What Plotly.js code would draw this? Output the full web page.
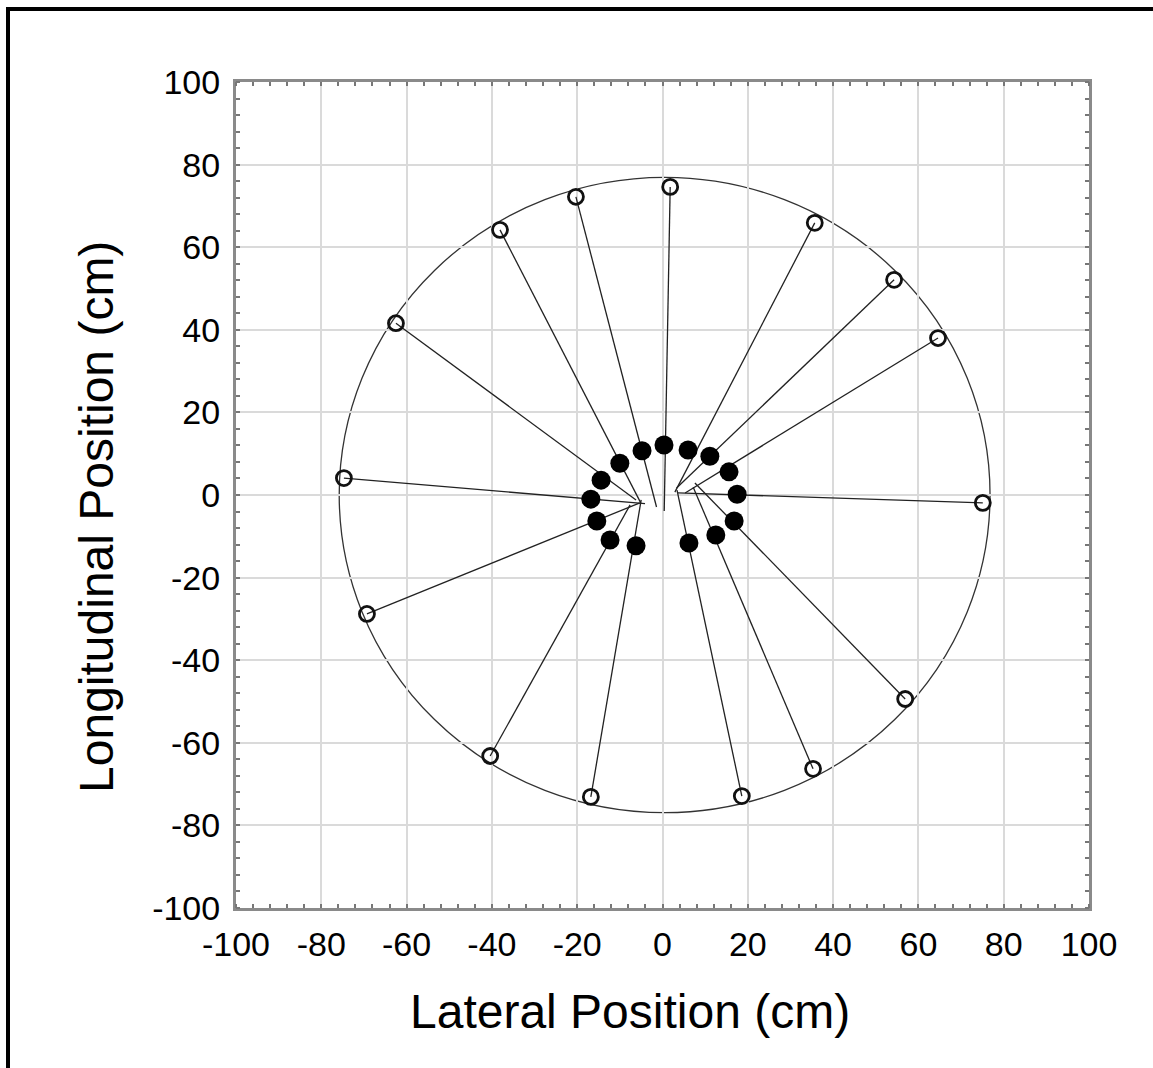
<!DOCTYPE html>
<html>
<head>
<meta charset="utf-8">
<script src="https://cdn.plot.ly/plotly-3.0.1.min.js"></script>
<style>
  html, body { margin: 0; padding: 0; background: #fff; }
  #wrap { position: relative; width: 1153px; height: 1068px; overflow: hidden; }
  #chart { width: 1153px; height: 1068px; }
  #frame { position: absolute; left: 6px; top: 7px; right: -10px; bottom: -10px;
           border-top: 4px solid #000; border-left: 4px solid #000; pointer-events: none; }
</style>
</head>
<body>
<div id="wrap">
  <div id="chart"></div>
  <div id="frame"></div>
</div>
<script>
// Outer target positions (open circles), cm
const targetX = [1.8, 35.7, 54.3, 64.6, 75.1, 56.9, 35.3, 18.6, -16.8, -40.4, -69.3, -74.7, -62.5, -38.1, -20.3];
const targetY = [74.6, 65.9, 52.1, 38.0, -1.9, -49.4, -66.3, -72.9, -73.1, -63.2, -28.8, 4.1, 41.6, 64.2, 72.2];
// Central end points of each line, cm
const startX = [0.4, 2.9, 3.3, 5.3, 3.6, 7.6, 7.2, 3.4, -5.0, -7.6, -5.3, -4.1, -6.2, -5.1, -1.4];
const startY = [-3.9, 0.7, 1.7, 0.5, 0.5, 2.9, 1.9, 1.2, -1.2, -2.4, -1.9, -2.1, -1.2, -1.9, -2.9];
// Filled dots, cm
const dotX = [0.35, 6.0, 11.1, 15.6, 17.5, 16.8, 12.5, 6.2, -6.2, -12.3, -15.4, -16.8, -14.4, -10.0, -4.8];
const dotY = [12.1, 10.9, 9.4, 5.6, 0.2, -6.3, -9.7, -11.6, -12.3, -10.9, -6.3, -1.0, 3.6, 7.7, 10.7];
// Reference circle
const circleCenter = [0.5, 0.0];
const circleRadiusX = 76.3;
const circleRadiusY = 76.9;
// Ticks and titles
const tickVals = [-100, -80, -60, -40, -20, 0, 20, 40, 60, 80, 100];
const tickText = ['-100', '-80', '-60', '-40', '-20', '0', '20', '40', '60', '80', '100'];
const xTitle = 'Lateral Position (cm)';
const yTitle = 'Longitudinal Position (cm)';

const lineX = [], lineY = [];
for (let i = 0; i < targetX.length; i++) {
  lineX.push(startX[i], targetX[i], null);
  lineY.push(startY[i], targetY[i], null);
}

const FONT = 'Liberation Sans, Arial, sans-serif';

const traces = [
  { type: 'scatter', mode: 'lines', x: lineX, y: lineY,
    line: { color: '#222', width: 1.3 }, hoverinfo: 'skip', showlegend: false },
  { type: 'scatter', mode: 'markers', x: dotX, y: dotY,
    marker: { symbol: 'circle', size: 19, color: '#000' }, showlegend: false },
  { type: 'scatter', mode: 'markers', x: targetX, y: targetY,
    marker: { symbol: 'circle-open', size: 15, color: '#111', line: { width: 2.8 } }, showlegend: false }
];

const axisCommon = {
  range: [-100, 100],
  tickvals: tickVals,
  ticktext: tickText,
  ticks: '',
  showgrid: true,
  gridcolor: '#dadada',
  gridwidth: 2,
  zeroline: false,
  showline: true,
  linecolor: '#8a8a8a',
  linewidth: 3,
  mirror: 'allticks',
  tickfont: { family: FONT, size: 34, color: '#000' },
  minor: { ticks: 'inside', dtick: 4, tick0: 0, ticklen: 4, tickwidth: 2, tickcolor: '#777', showgrid: false }
};

const layout = {
  width: 1153, height: 1068,
  margin: { l: 236, r: 64, t: 82, b: 160 },
  paper_bgcolor: '#fff', plot_bgcolor: '#fff',
  showlegend: false,
  xaxis: Object.assign({}, axisCommon, { ticklabelstandoff: 4 }),
  yaxis: Object.assign({}, axisCommon, { ticklabelstandoff: 6 }),
  annotations: [
    { text: xTitle, xref: 'paper', yref: 'paper', x: 0.462, y: -0.125,
      xanchor: 'center', yanchor: 'middle', showarrow: false,
      font: { family: FONT, size: 48, color: '#000' } },
    { text: yTitle, xref: 'paper', yref: 'paper', x: -0.163, y: 0.4734,
      xanchor: 'center', yanchor: 'middle', showarrow: false, textangle: -90,
      font: { family: FONT, size: 48, color: '#000' } }
  ],
  shapes: [{
    type: 'circle', xref: 'x', yref: 'y', layer: 'below',
    x0: circleCenter[0] - circleRadiusX, x1: circleCenter[0] + circleRadiusX,
    y0: circleCenter[1] - circleRadiusY, y1: circleCenter[1] + circleRadiusY,
    line: { color: '#333', width: 1.3 }
  }]
};

Plotly.newPlot('chart', traces, layout, { displayModeBar: false, staticPlot: true });
</script>
</body>
</html>
